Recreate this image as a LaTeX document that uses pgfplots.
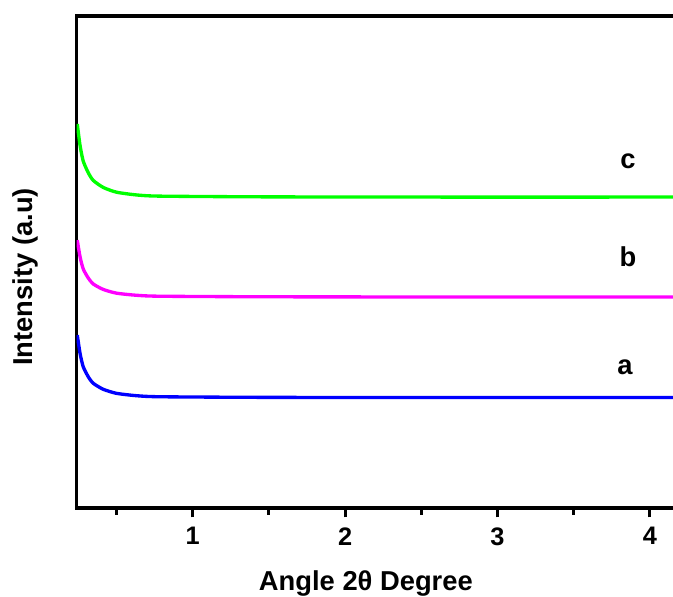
\documentclass[border=0pt]{standalone}
\usepackage{fontspec}
\setmainfont{Liberation Sans}
\usepackage{pgfplots}
\pgfplotsset{compat=1.18}
\definecolor{cblue}{RGB}{0,0,255}
\definecolor{cmag}{RGB}{255,0,255}
\definecolor{cgreen}{RGB}{0,255,0}
\begin{document}
\begin{tikzpicture}
\begin{axis}[
  name=ax,
  scale only axis,
  width=447.2pt, height=369pt,
  xmin=0.239, xmax=4.152, ymin=0, ymax=100,
  axis x line=box, axis y line=left,
  axis line style={-, line width=2.4pt, line cap=rect},
  xtick={1,2,3,4}, minor xtick={0.5,1.5,2.5,3.5},
  xtick pos=bottom, tick align=outside,
  major tick length=7pt, minor tick length=5pt,
  every tick/.style={black, line width=2.2pt},
  ytick=\empty,
  /pgf/number format/assume math mode=true,
  xticklabel style={font=\bfseries\fontsize{19}{22}\selectfont, yshift=-4pt},
  xlabel={Angle 2θ Degree},
  xlabel style={at={(rel axis cs:0.485,0)}, anchor=base, yshift=-61.5pt, font=\bfseries\fontsize{20.5}{24}\selectfont},
  ylabel={Intensity (a.u)},
  ylabel style={at={(rel axis cs:0,0.47)}, anchor=base, yshift=32.8pt, font=\bfseries\fontsize{20.5}{24}\selectfont},
  clip=true,
]
\addplot[cblue, line width=2.5pt, smooth, tension=0.4] coordinates {
(0.243,35.16) (0.261,31.46) (0.282,28.72) (0.315,26.69) (0.348,25.35)
(0.414,24.13) (0.501,23.31) (0.633,22.83) (0.786,22.62) (1.442,22.50)
(2.5,22.46) (4.152,22.46)};
\addplot[cmag, line width=2.5pt, smooth, tension=0.4] coordinates {
(0.243,54.46) (0.261,51.09) (0.282,48.60) (0.315,46.75) (0.348,45.53)
(0.414,44.42) (0.501,43.67) (0.633,43.24) (0.786,43.05) (1.442,42.94)
(2.5,42.9) (4.152,42.9)};
\addplot[cgreen, line width=2.5pt, smooth, tension=0.4] coordinates {
(0.243,78.06) (0.261,73.73) (0.282,70.52) (0.315,68.15) (0.348,66.58)
(0.414,65.15) (0.501,64.19) (0.633,63.63) (0.786,63.39) (1.442,63.25)
(2.5,63.2) (4.152,63.2)};
\node[font=\bfseries\fontsize{20.5}{24}\selectfont] at (axis cs:3.856,70.5) {c};
\node[font=\bfseries\fontsize{20.5}{24}\selectfont] at (axis cs:3.856,51.0) {b};
\node[font=\bfseries\fontsize{20.5}{24}\selectfont] at (axis cs:3.837,28.7) {a};
\end{axis}
\pgfresetboundingbox
\path ([shift={(-57.5pt,-66pt)}]ax.south west) rectangle ([shift={(0pt,12pt)}]ax.north east);
\end{tikzpicture}
\end{document}
